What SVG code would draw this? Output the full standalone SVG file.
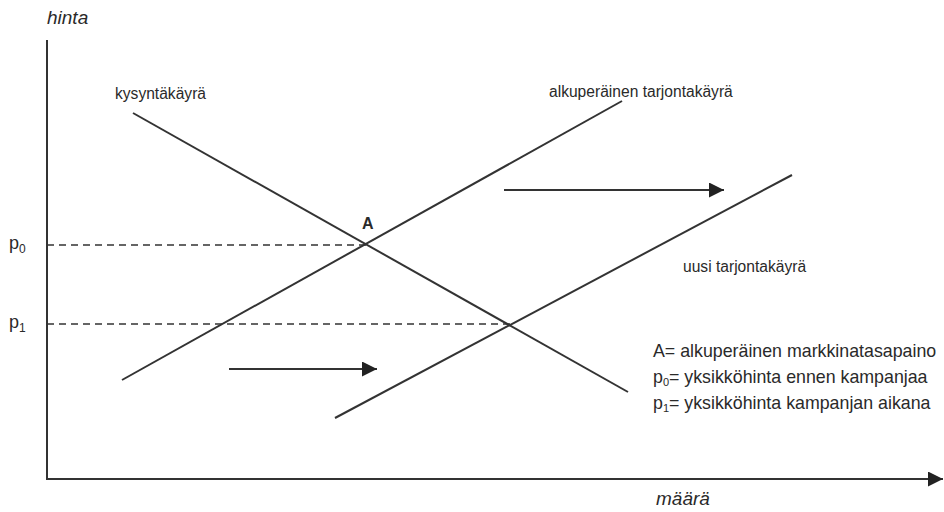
<svg xmlns="http://www.w3.org/2000/svg" width="944" height="512" viewBox="0 0 944 512">
<style>
text{font-family:"Liberation Sans",Arial,sans-serif;fill:#2a2a2a}
.ax{font-style:italic;font-size:19px}
.lb{font-size:15.6px}
.lg{font-size:17.8px}
.ln{stroke:#333;stroke-width:2;fill:none}
.ds{stroke:#333;stroke-width:1.5;stroke-dasharray:7 5;fill:none}
</style>
<defs>
<marker id="ah" viewBox="0 0 10 10" refX="10" refY="5" markerWidth="15" markerHeight="15" markerUnits="userSpaceOnUse" orient="auto"><path d="M0,0 L10,5 L0,10 Z" fill="#222"/></marker>
</defs>
<g id="axes">
<line class="ln" x1="47" y1="40" x2="47" y2="480"/>
<line class="ln" x1="47" y1="479" x2="943" y2="479" marker-end="url(#ah)"/>
<text class="ax" x="47" y="24">hinta</text>
<text class="ax" x="656" y="505">määrä</text>
</g>
<g id="connectors">
<line class="ln" x1="133" y1="113" x2="628" y2="392"/>
<line class="ln" x1="122" y1="380" x2="622" y2="101"/>
<line class="ln" x1="335" y1="418" x2="792" y2="175"/>
<line class="ds" x1="47" y1="245" x2="370" y2="245"/>
<line class="ds" x1="47" y1="324" x2="511" y2="324"/>
<line class="ln" x1="504" y1="190" x2="724" y2="190" marker-end="url(#ah)"/>
<line class="ln" x1="229" y1="369" x2="377" y2="369" marker-end="url(#ah)"/>
</g>
<g id="labels">
<text class="lb" x="115" y="99">kysyntäkäyrä</text>
<text class="lb" x="549" y="97">alkuperäinen tarjontakäyrä</text>
<text class="lb" x="683" y="272">uusi tarjontakäyrä</text>
<text x="362" y="229" style="font-weight:bold;font-size:16px">A</text>
<text x="9" y="249" style="font-size:18px">p<tspan font-size="12" dy="4">0</tspan></text>
<text x="9" y="328" style="font-size:18px">p<tspan font-size="12" dy="4">1</tspan></text>
</g>
<g id="legend">
<text class="lg" x="653" y="357">A= alkuperäinen markkinatasapaino</text>
<text class="lg" x="653" y="383">p<tspan font-size="11" dy="3">0</tspan><tspan dy="-3">= yksikköhinta ennen kampanjaa</tspan></text>
<text class="lg" x="653" y="409">p<tspan font-size="11" dy="3">1</tspan><tspan dy="-3">= yksikköhinta kampanjan aikana</tspan></text>
</g>
</svg>
